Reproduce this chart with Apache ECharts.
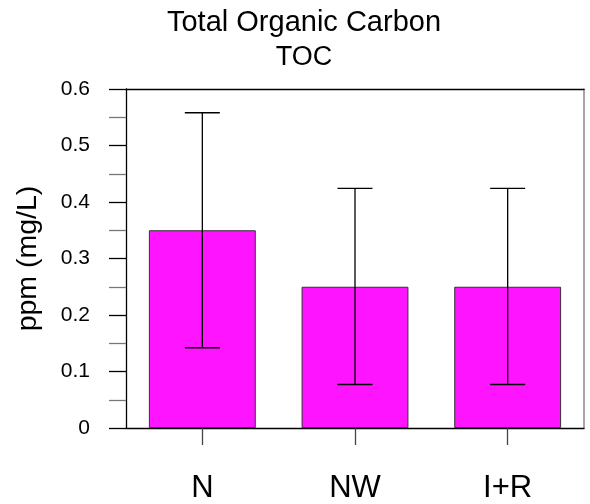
<!DOCTYPE html>
<html>
<head>
<meta charset="utf-8">
<script src="https://cdn.jsdelivr.net/npm/echarts@6/dist/echarts.min.js"></script>
<style>html,body{margin:0;padding:0;background:#fff}#c{width:590px;height:504px}</style>
</head>
<body>
<div id="c"></div>
<script>
var categories = ['N', 'NW', 'I+R'];
var means = [0.35, 0.25, 0.25];
var upper = [0.558, 0.424, 0.424];
var lower = [0.142, 0.077, 0.077];
var yTicks = [0, 0.1, 0.2, 0.3, 0.4, 0.5, 0.6];
var titleLines = ['Total Organic Carbon', 'TOC'];
var yName = 'ppm (mg/L)';

var FONT = 'Liberation Sans, Arial, sans-serif';
var chart = echarts.init(document.getElementById('c'));
var errData = categories.map(function (c, i) { return [i, lower[i], upper[i]]; });

chart.setOption({
  animation: false,
  backgroundColor: '#fff',
  title: {
    text: '{a|' + titleLines[0] + '}\n{b|' + titleLines[1] + '}',
    left: 299,
    top: 0,
    textAlign: 'center',
    textStyle: {
      fontFamily: FONT, fontWeight: 'normal', color: '#000',
      rich: {
        a: { fontFamily: FONT, fontSize: 29, lineHeight: 35, color: '#000', align: 'center' },
        b: { fontFamily: FONT, fontSize: 27, lineHeight: 35, color: '#000', align: 'center' }
      }
    }
  },
  grid: { left: 126, right: 6, top: 89, bottom: 72, containLabel: false },
  xAxis: [{
    type: 'category',
    data: categories,
    position: 'bottom',
    axisLine: { show: true, onZero: false, lineStyle: { color: '#000', width: 1.3 } },
    axisTick: { show: true, alignWithLabel: true, length: 17, lineStyle: { color: '#444', width: 1.3 } },
    axisLabel: { fontFamily: FONT, fontSize: 31, color: '#000', margin: 45 },
    splitLine: { show: false }
  }, {
    type: 'category',
    data: categories,
    position: 'top',
    axisLine: { show: true, onZero: false, lineStyle: { color: '#000', width: 1.3 } },
    axisTick: { show: false },
    axisLabel: { show: false },
    splitLine: { show: false }
  }],
  yAxis: [{
    type: 'value',
    min: yTicks[0],
    max: yTicks[yTicks.length - 1],
    interval: 0.1,
    name: yName,
    nameLocation: 'middle',
    nameGap: 83,
    nameTextStyle: { fontFamily: FONT, fontSize: 28.5, color: '#000' },
    axisLine: { show: true, onZero: false, lineStyle: { color: '#000', width: 1.3 } },
    axisTick: { show: true, length: 17, lineStyle: { color: '#000', width: 1.3 } },
    minorTick: { show: true, splitNumber: 2, length: 17, lineStyle: { color: '#777', width: 1.3 } },
    axisLabel: {
      fontFamily: FONT, fontSize: 21, color: '#000', margin: 36,
      formatter: function (v) { return v === 0 ? '0' : v.toFixed(1); }
    },
    splitLine: { show: false }
  }, {
    type: 'value',
    position: 'right',
    min: yTicks[0],
    max: yTicks[yTicks.length - 1],
    interval: 0.1,
    axisLine: { show: true, onZero: false, lineStyle: { color: '#888', width: 1.5 } },
    axisTick: { show: false },
    axisLabel: { show: false },
    splitLine: { show: false }
  }],
  series: [{
    type: 'bar',
    data: means,
    barCategoryGap: '30%',
    itemStyle: { color: '#FF14FF', borderColor: '#333', borderWidth: 1 },
    z: 2
  }, {
    type: 'custom',
    data: errData,
    encode: { x: 0, y: [1, 2] },
    z: 3,
    renderItem: function (params, api) {
      var x = api.value(0);
      var lo = api.coord([x, api.value(1)]);
      var hi = api.coord([x, api.value(2)]);
      var hw = 17.5;
      var st = { stroke: '#000', lineWidth: 1.3 };
      return {
        type: 'group',
        children: [
          { type: 'line', shape: { x1: hi[0], y1: hi[1], x2: lo[0], y2: lo[1] }, style: st },
          { type: 'line', shape: { x1: hi[0] - hw, y1: hi[1], x2: hi[0] + hw, y2: hi[1] }, style: st },
          { type: 'line', shape: { x1: lo[0] - hw, y1: lo[1], x2: lo[0] + hw, y2: lo[1] }, style: st }
        ]
      };
    }
  }]
});
</script>
</body>
</html>
